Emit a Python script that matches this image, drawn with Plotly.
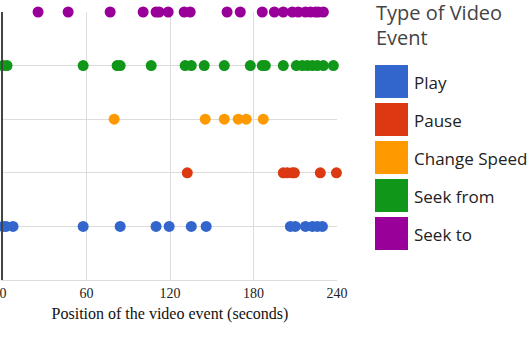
import plotly.graph_objects as go

categories = ["Play", "Pause", "Change Speed", "Seek from", "Seek to"]
colors = ["#3366cc", "#dc3912", "#ff9900", "#109618", "#990099"]

play = [0, 2.2, 7.2, 57.6, 84.2, 110, 119.4, 135.3, 146, 206.5, 210, 217.3, 222.3, 225.9, 229.5]
pause = [132.4, 201.4, 204.3, 207.9, 209.4, 228, 239.6]
change_speed = [79.9, 145.3, 159, 169, 174.8, 187]
seek_from = [0, 2.9, 57.6, 82, 84.2, 106.5, 130.9, 135.3, 144.6, 159, 177.7, 186.3, 188.5,
             201.4, 210.8, 215.1, 218.7, 222.3, 225.9, 230.2, 237.4]
seek_to = [25.2, 46.8, 77, 100.7, 110, 112.2, 118.7, 130.2, 134.5, 161, 170.5, 186.3, 195,
           201.4, 207.9, 212.2, 217.3, 220.9, 224.5, 226.6, 230.2]

series = [play, pause, change_speed, seek_from, seek_to]
x_ticks = [0, 60, 120, 180, 240]
legend_title = ["Type of Video", "Event"]

W, H = 531, 340
L, R, T, B = 3, 337, 12, 280

fig = go.Figure()
for name, vals, col in zip(categories, series, colors):
    fig.add_trace(go.Scatter(
        x=vals, y=[name] * len(vals), mode="markers", name=name,
        marker=dict(color=col, size=11), cliponaxis=False, showlegend=False))

def px_x(p):
    return (p - L) / (R - L)

def px_y(p):
    return (B - p) / (B - T)

shapes = []
annotations = []
for i, (name, col) in enumerate(zip(categories, colors)):
    top = 65 + i * 38
    shapes.append(dict(type="rect", xref="paper", yref="paper",
                       x0=px_x(375), x1=px_x(408), y0=px_y(top + 33), y1=px_y(top),
                       fillcolor=col, line=dict(width=0)))
    annotations.append(dict(xref="paper", yref="paper", x=px_x(412), y=px_y(top + 17),
                            xanchor="left", yanchor="middle", text=name, showarrow=False,
                            font=dict(family="Open Sans", size=17, color="#222")))

for j, line in enumerate(legend_title):
    annotations.append(dict(xref="paper", yref="paper", x=px_x(374), y=px_y(13 + j * 24),
                            xanchor="left", yanchor="middle", text=line, showarrow=False,
                            font=dict(family="Open Sans", size=20, color="#444")))

fig.update_layout(
    width=W, height=H,
    margin=dict(l=L, r=W - R, t=T, b=H - B, autoexpand=False),
    plot_bgcolor="white", paper_bgcolor="white",
    shapes=shapes, annotations=annotations,
    xaxis=dict(range=[0, 240], tickvals=x_ticks, showgrid=True, gridcolor="#dcdcdc",
               zeroline=False, showline=True, linecolor="#dcdcdc", linewidth=1,
               ticklabeloverflow="allow", automargin=False,
               tickfont=dict(family="Liberation Serif", size=14, color="#222"),
               ticks="", title=dict(text="Position of the video event (seconds)",
                                    font=dict(family="Liberation Serif", size=16, color="#111"),
                                    standoff=8)),
    yaxis=dict(type="category", categoryorder="array", categoryarray=categories,
               range=[-1, 4], showticklabels=False, showgrid=True, gridcolor="#dcdcdc",
               zeroline=False, showline=True, linecolor="#444", linewidth=2, ticks="",
               automargin=False),
)

fig.write_html("out.html")
